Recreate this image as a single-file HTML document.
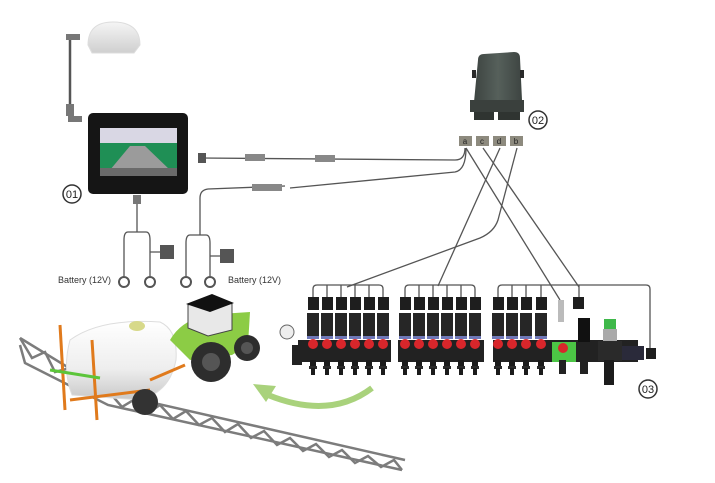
<!DOCTYPE html>
<html><head><meta charset="utf-8"><style>
html,body{margin:0;padding:0;background:#fff;}
svg{display:block;font-family:"Liberation Sans",sans-serif;}
</style></head><body>
<svg width="715" height="483" viewBox="0 0 715 483" xmlns="http://www.w3.org/2000/svg">
<defs>
<g id="v">
 <rect x="-5" y="297" width="11" height="13" fill="#1e1e1e"/>
 <rect x="-6" y="313" width="12" height="25" fill="#262626"/>
 <rect x="-6" y="336" width="12" height="3" fill="#6f78b8"/>
 <circle cx="0" cy="344" r="5" fill="#d8262b"/>
 <rect x="-3" y="360" width="6" height="8" fill="#1b1b1b"/>
 <rect x="-4" y="366" width="8" height="3" fill="#2a2a2a"/>
 <rect x="-2" y="368" width="4" height="7" fill="#1b1b1b"/>
</g>
<linearGradient id="gr" x1="0" y1="0" x2="0" y2="1"><stop offset="0" stop-color="#f5f5f5"/><stop offset="1" stop-color="#cfcfcf"/></linearGradient>
<linearGradient id="tk" x1="0" y1="0" x2="0" y2="1"><stop offset="0" stop-color="#ffffff"/><stop offset="0.6" stop-color="#eeeeee"/><stop offset="1" stop-color="#c8c8c8"/></linearGradient>
<linearGradient id="ecu" x1="0" y1="0" x2="1" y2="0"><stop offset="0" stop-color="#3d4441"/><stop offset="0.5" stop-color="#56605b"/><stop offset="1" stop-color="#3d4441"/></linearGradient>
</defs>

<!-- GPS -->
<path d="M88 45 Q88 22 113 22 Q140 22 140 45 L134 53 L92 53 Z" fill="url(#gr)" stroke="#ddd"/>
<line x1="70" y1="38" x2="70" y2="118" stroke="#555" stroke-width="2.5"/>
<rect x="66" y="34" width="14" height="6" fill="#777"/>
<rect x="66" y="104" width="8" height="12" fill="#777"/>
<rect x="68" y="116" width="14" height="6" fill="#777"/>

<!-- display -->
<rect x="88" y="113" width="100" height="81" rx="5" fill="#151515"/>
<rect x="100" y="128" width="77" height="48" fill="#1f8f55"/>
<rect x="100" y="128" width="77" height="15" fill="#d9d7e4"/>
<polygon points="110,170 130,146 145,146 170,170" fill="#9b9b9b"/>
<rect x="100" y="168" width="77" height="8" fill="#6a6a6a"/>
<rect x="133" y="195" width="8" height="9" fill="#777"/>
<circle cx="72" cy="194" r="9" fill="#fff" stroke="#333" stroke-width="1.5"/>
<text x="72" y="198" font-size="11" text-anchor="middle" fill="#222">01</text>

<!-- cables -->
<g fill="none" stroke="#555" stroke-width="1.3">
 <path d="M200 158 L455 160 Q465 160 465 148"/>
 <path d="M290 188 L455 172 Q466 170 466 148"/>
 <path d="M285 186 L208 189 Q200 190 200 198 L200 235"/>
 <path d="M137 204 L137 232"/>
 <path d="M128 232 L146 232 Q150 232 150 240 L150 276 M128 232 Q124 232 124 240 L124 276 M150 252 L160 252"/>
 <path d="M190 235 L206 235 Q210 235 210 243 L210 276 M190 235 Q186 235 186 243 L186 276 M210 256 L220 256"/>
 <path d="M466 148 L560 300"/>
 <path d="M483 148 L579 287"/>
 <path d="M500 148 L438 286"/>
 <path d="M517 148 L498 220 Q494 232 480 238 L347 287"/>
</g>
<rect x="198" y="153" width="8" height="10" fill="#555"/>
<rect x="245" y="154" width="20" height="7" fill="#888"/><rect x="315" y="155" width="20" height="7" fill="#888"/>
<rect x="252" y="184" width="30" height="7" fill="#888"/>
<circle cx="124" cy="282" r="5" fill="none" stroke="#555" stroke-width="2"/>
<circle cx="150" cy="282" r="5" fill="none" stroke="#555" stroke-width="2"/>
<circle cx="186" cy="282" r="5" fill="none" stroke="#555" stroke-width="2"/>
<circle cx="210" cy="282" r="5" fill="none" stroke="#555" stroke-width="2"/>
<rect x="160" y="245" width="14" height="14" fill="#555"/><rect x="220" y="249" width="14" height="14" fill="#555"/>
<text x="58" y="283" font-size="9" fill="#333">Battery (12V)</text>
<text x="228" y="283" font-size="9" fill="#333">Battery (12V)</text>

<!-- ECU -->
<path d="M478 60 Q478 54 484 54 L514 52 Q520 52 520 58 L522 100 L474 102 Z" fill="url(#ecu)"/>
<rect x="470" y="100" width="54" height="12" fill="#3a403d"/>
<rect x="474" y="112" width="20" height="8" fill="#2f3431"/><rect x="498" y="112" width="22" height="8" fill="#2f3431"/>
<rect x="472" y="70" width="4" height="8" fill="#2a2a2a"/><rect x="520" y="70" width="4" height="8" fill="#2a2a2a"/>
<circle cx="538" cy="120" r="9" fill="#fff" stroke="#333" stroke-width="1.5"/>
<text x="538" y="124" font-size="11" text-anchor="middle" fill="#222">02</text>
<g font-size="8" fill="#222" text-anchor="middle">
<rect x="459" y="136" width="13" height="10" fill="#8d8a7e"/><text x="465" y="144">a</text>
<rect x="476" y="136" width="13" height="10" fill="#8d8a7e"/><text x="482" y="144">c</text>
<rect x="493" y="136" width="13" height="10" fill="#8d8a7e"/><text x="499" y="144">d</text>
<rect x="510" y="136" width="13" height="10" fill="#8d8a7e"/><text x="516" y="144">b</text>
</g>

<!-- valve brackets -->
<g fill="none" stroke="#555" stroke-width="1.3">
 <path d="M313 297 V289 Q313 285 317 285 H379 Q383 285 383 289 V297 M327 285V297 M341 285V297 M355 285V297 M369 285V297"/>
 <path d="M405 297 V289 Q405 285 409 285 H471 Q475 285 475 289 V297 M419 285V297 M433 285V297 M447 285V297 M461 285V297"/>
 <path d="M498 297 V289 Q498 285 502 285 H646 Q650 285 650 289 V350 M512 285V297 M526 285V297 M541 285V297 M579 285V297"/>
</g>
<!-- manifolds -->
<rect x="298" y="340" width="93" height="22" fill="#222"/>
<rect x="398" y="340" width="86" height="22" fill="#222"/>
<rect x="493" y="340" width="145" height="22" fill="#222"/>
<rect x="292" y="345" width="10" height="20" fill="#222"/>
<circle cx="287" cy="332" r="7" fill="#eee" stroke="#666"/>
<g>
<use href="#v" x="313"/><use href="#v" x="327"/><use href="#v" x="341"/><use href="#v" x="355"/><use href="#v" x="369"/><use href="#v" x="383"/>
<use href="#v" x="405"/><use href="#v" x="419"/><use href="#v" x="433"/><use href="#v" x="447"/><use href="#v" x="461"/><use href="#v" x="475"/>
<use href="#v" x="498"/><use href="#v" x="512"/><use href="#v" x="526"/><use href="#v" x="541"/>
</g>
<rect x="552" y="342" width="24" height="20" fill="#4cc545"/>
<circle cx="563" cy="348" r="5" fill="#d8262b"/>
<rect x="559" y="360" width="7" height="14" fill="#222"/>
<rect x="558" y="300" width="6" height="22" fill="#bbb"/>
<rect x="573" y="297" width="11" height="12" fill="#1e1e1e"/>
<rect x="578" y="318" width="12" height="24" fill="#111"/>
<rect x="580" y="360" width="8" height="14" fill="#222"/>
<rect x="604" y="319" width="12" height="10" fill="#3fb84a"/>
<rect x="603" y="329" width="14" height="12" fill="#aaa"/>
<rect x="598" y="341" width="24" height="20" fill="#2a2a2a"/>
<rect x="604" y="360" width="10" height="25" fill="#1c1c1c"/>
<rect x="622" y="346" width="22" height="14" fill="#2a2a3a"/>
<rect x="646" y="348" width="10" height="11" fill="#1e1e1e"/>
<circle cx="648" cy="389" r="9" fill="#fff" stroke="#333" stroke-width="1.5"/>
<text x="648" y="393" font-size="11" text-anchor="middle" fill="#222">03</text>

<!-- green arrow -->
<path d="M372 388 Q330 420 268 395" fill="none" stroke="#a9d27c" stroke-width="6"/>
<polygon points="253,384 276,386 266,402" fill="#a9d27c"/>

<!-- sprayer -->
<g stroke="#7c7c7c" stroke-width="2.5" fill="none">
 <path d="M20 338 L110 393 L405 460 M20 345 L25 363 L108 405 L402 470"/>
 <path d="M110 393 L122 407 L135 399 L148 413 L160 405 L173 419 L186 411 L199 425 L212 418 L225 432 L238 424 L251 438 L264 431 L277 445 L290 438 L303 451 L316 444 L329 457 L342 450 L355 463 L368 456 L381 467 L394 460 L402 470"/>
 <path d="M20 338 L32 358 L45 352 L55 372 L70 368 L80 386 L95 385"/>
</g>
<path d="M70 340 Q100 318 160 322 Q178 330 176 360 Q170 392 140 400 L72 395 Q62 370 70 340Z" fill="url(#tk)" stroke="#ddd"/>
<ellipse cx="137" cy="326" rx="8" ry="5" fill="#d7d98a"/>
<g stroke="#e07a1c" stroke-width="3"><line x1="60" y1="325" x2="65" y2="410"/><line x1="92" y1="340" x2="97" y2="420"/><line x1="70" y1="400" x2="150" y2="390"/><line x1="150" y1="380" x2="185" y2="365"/></g>
<line x1="50" y1="370" x2="100" y2="378" stroke="#5cc53a" stroke-width="3"/>
<circle cx="145" cy="402" r="13" fill="#333"/>
<path d="M170 340 Q180 322 205 315 L250 312 L248 345 L232 355 L190 360 Z" fill="#8ccc45"/>
<polygon points="188,305 215,296 232,304 232,330 208,336 188,328" fill="#e8e8e8" stroke="#444"/>
<polygon points="186,304 212,294 234,303 210,312" fill="#111"/>
<circle cx="211" cy="362" r="20" fill="#2d2d2d"/><circle cx="211" cy="362" r="9" fill="#555"/>
<circle cx="247" cy="348" r="13" fill="#2d2d2d"/><circle cx="247" cy="348" r="6" fill="#555"/>
</svg>
</body></html>
